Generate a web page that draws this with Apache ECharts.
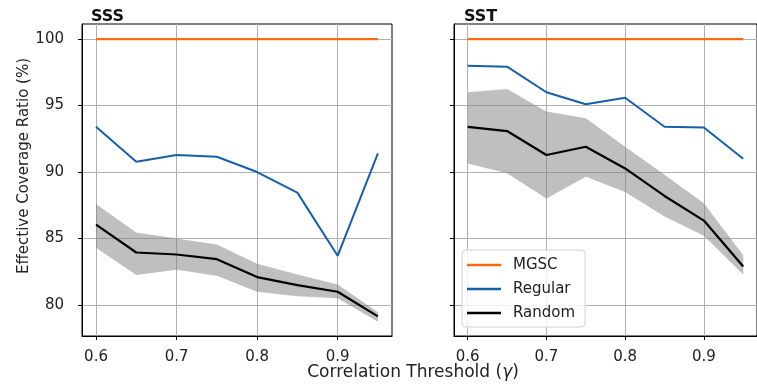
<!DOCTYPE html>
<html lang="en">
<head>
    <meta charset="UTF-8">
    <title>Effective Coverage Ratio</title>
    <script type="text/javascript" src="https://cdn.jsdelivr.net/npm/echarts@6/dist/echarts.min.js"></script>
    <style>
        html, body { margin: 0; padding: 0; background: #fff; }
        #chart { width: 757px; height: 387px; }
    </style>
</head>
<body>
<div id="chart"></div>
<script>
    // thresholds (x)
    var thresholds = [0.6, 0.65, 0.7, 0.75, 0.8, 0.85, 0.9, 0.95];
    var xTicks = [0.6, 0.7, 0.8, 0.9];
    var yTicks = [80, 85, 90, 95, 100];

    // SSS panel
    var sssMgsc = [100, 100, 100, 100, 100, 100, 100, 100];
    var sssRegular = [93.4, 90.78, 91.28, 91.15, 90.0, 88.45, 83.7, 91.4];
    var sssRandom = [86.05, 83.95, 83.8, 83.45, 82.1, 81.5, 81.0, 79.15];
    var sssRandomUpper = [87.6, 85.45, 85.0, 84.55, 83.1, 82.3, 81.55, 79.45];
    var sssRandomLower = [84.3, 82.25, 82.65, 82.2, 81.0, 80.65, 80.5, 78.75];

    // SST panel
    var sstMgsc = [100, 100, 100, 100, 100, 100, 100, 100];
    var sstRegular = [98.0, 97.92, 96.0, 95.1, 95.58, 93.4, 93.35, 91.0];
    var sstRandom = [93.4, 93.08, 91.28, 91.9, 90.27, 88.2, 86.35, 82.9];
    var sstRandomUpper = [96.0, 96.25, 94.55, 94.05, 91.9, 89.8, 87.65, 83.75];
    var sstRandomLower = [90.65, 89.9, 88.0, 89.65, 88.5, 86.65, 85.2, 82.3];

    var FONT = 'DejaVu Sans';
    var ORANGE = '#fb6a12';
    var BLUE = '#1560a8';

    function pairs(ys) {
        return thresholds.map(function (x, i) { return [x, ys[i]]; });
    }
    function bandRows(low, up) {
        return thresholds.map(function (x, i) { return [x, low[i], up[i]]; });
    }

    // whole band drawn as one polygon (lower edge forward, upper edge back)
    function renderBand(params, api) {
        if (params.dataIndexInside !== 0) return null;
        var n = params.dataInsideLength;
        var lowPts = [], upPts = [];
        for (var k = 0; k < n; k++) {
            var x = api.value(0, k);
            lowPts.push(api.coord([x, api.value(1, k)]));
            upPts.unshift(api.coord([x, api.value(2, k)]));
        }
        return {
            type: 'polygon',
            shape: { points: lowPts.concat(upPts) },
            style: { fill: 'rgba(128,128,128,0.5)', stroke: null }
        };
    }

    function xAxisFor(idx) {
        return {
            type: 'value', gridIndex: idx, min: 0.5826, max: 0.9675,
            axisLine: { show: true, onZero: false, lineStyle: { color: '#000', width: 1 } },
            axisTick: { show: true, length: 4, customValues: xTicks, lineStyle: { color: '#000' } },
            axisLabel: { customValues: xTicks, color: '#222', fontFamily: FONT, fontSize: 15, margin: 14,
                formatter: function (v) { return v.toFixed(1); } },
            splitLine: { show: true, lineStyle: { color: '#b0b0b0', width: 1 } }
        };
    }
    function yAxisFor(idx, showLabels) {
        return {
            type: 'value', gridIndex: idx, min: 77.67, max: 101.13,
            axisLine: { show: true, onZero: false, lineStyle: { color: '#000', width: 1 } },
            axisTick: { show: true, length: 4, customValues: yTicks, lineStyle: { color: '#000' } },
            axisLabel: { show: showLabels, customValues: yTicks, color: '#222', fontFamily: FONT, fontSize: 15, margin: 18 },
            splitLine: { show: true, lineStyle: { color: '#b0b0b0', width: 1 } }
        };
    }

    function panelSeries(idx, mgsc, regular, random, upper, lower) {
        return [
            {
                name: 'band' + idx, type: 'custom', xAxisIndex: idx, yAxisIndex: idx,
                data: bandRows(lower, upper), renderItem: renderBand,
                encode: { x: 0, y: [1, 2] }, clip: true, silent: true, z: 1
            },
            {
                name: 'MGSC', type: 'line', xAxisIndex: idx, yAxisIndex: idx,
                data: pairs(mgsc), symbol: 'none', color: ORANGE,
                lineStyle: { color: ORANGE, width: 2.2 }, z: 3
            },
            {
                name: 'Regular', type: 'line', xAxisIndex: idx, yAxisIndex: idx,
                data: pairs(regular), symbol: 'none', color: BLUE,
                lineStyle: { color: BLUE, width: 2 }, z: 3
            },
            {
                name: 'Random', type: 'line', xAxisIndex: idx, yAxisIndex: idx,
                data: pairs(random), symbol: 'none', color: '#000',
                lineStyle: { color: '#000', width: 2.2 }, z: 4
            }
        ];
    }

    var myChart = echarts.init(document.getElementById('chart'), null, { renderer: 'canvas' });

    var option = {
        animation: false,
        backgroundColor: '#fff',
        title: [
            { text: 'SSS', left: 86, top: 4, textStyle: { fontFamily: FONT, fontSize: 16, fontWeight: 'bold', color: '#111' } },
            { text: 'SST', left: 459, top: 4, textStyle: { fontFamily: FONT, fontSize: 16, fontWeight: 'bold', color: '#111' } }
        ],
        grid: [
            { left: 82, top: 24, width: 310, height: 312, show: true, borderColor: '#000', borderWidth: 1, backgroundColor: 'transparent' },
            { left: 454, top: 24, width: 312, height: 312, show: true, borderColor: '#000', borderWidth: 1, backgroundColor: 'transparent' }
        ],
        xAxis: [xAxisFor(0), xAxisFor(1)],
        yAxis: [yAxisFor(0, true), yAxisFor(1, false)],
        legend: {
            data: ['MGSC', 'Regular', 'Random'],
            orient: 'vertical', left: 462, top: 250,
            icon: 'rect', itemWidth: 34, itemHeight: 2.5, itemGap: 8,
            padding: [7, 10, 6, 5],
            backgroundColor: 'rgba(255,255,255,0.85)',
            borderColor: '#d0d0d0', borderWidth: 1, borderRadius: 4,
            textStyle: { fontFamily: FONT, fontSize: 15, lineHeight: 16, color: '#222', padding: [0, 0, 0, 7] }
        },
        graphic: [
            {
                type: 'text', x: 413, y: 373,
                style: { text: 'Correlation Threshold ({g|\u03b3})', font: '17px "DejaVu Sans"', fill: '#222',
                    align: 'center', verticalAlign: 'middle',
                    rich: { g: { fontStyle: 'italic', fontFamily: FONT, fontSize: 17, fill: '#222' } } }
            },
            {
                type: 'text', x: 24, y: 166, rotation: Math.PI / 2,
                style: { text: 'Effective Coverage Ratio (%)', font: '15px "DejaVu Sans"', fill: '#222',
                    align: 'center', verticalAlign: 'middle' }
            }
        ],
        series: [].concat(
            panelSeries(0, sssMgsc, sssRegular, sssRandom, sssRandomUpper, sssRandomLower),
            panelSeries(1, sstMgsc, sstRegular, sstRandom, sstRandomUpper, sstRandomLower)
        )
    };
    myChart.setOption(option);
</script>
</body>
</html>
